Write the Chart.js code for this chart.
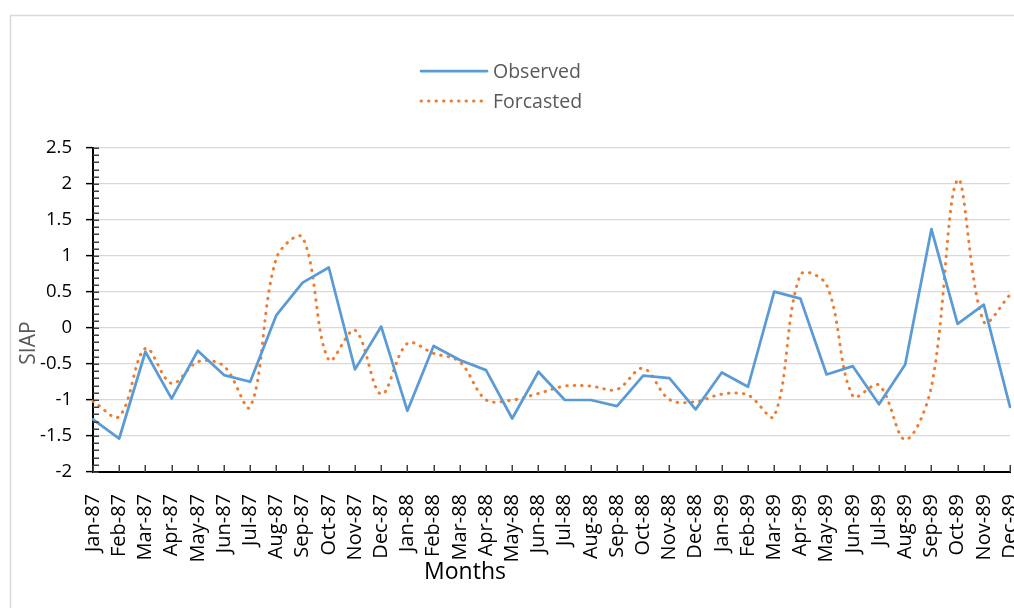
<!DOCTYPE html>
<html>
<head>
<meta charset="utf-8">
<script src="https://cdn.jsdelivr.net/npm/chart.js@4/dist/chart.umd.min.js"></script>
<style>
  html, body { margin: 0; padding: 0; background: #fff; overflow: hidden; }
  #wrap { position: absolute; left: 0; top: 0; width: 1060px; height: 608px; }
</style>
</head>
<body>
<div id="wrap"><canvas id="c" width="1060" height="608"></canvas></div>
<script>
// Monthly SIAP index, Jan 1987 - Dec 1989
const months = [
  'Jan-87','Feb-87','Mar-87','Apr-87','May-87','Jun-87','Jul-87','Aug-87','Sep-87','Oct-87','Nov-87','Dec-87',
  'Jan-88','Feb-88','Mar-88','Apr-88','May-88','Jun-88','Jul-88','Aug-88','Sep-88','Oct-88','Nov-88','Dec-88',
  'Jan-89','Feb-89','Mar-89','Apr-89','May-89','Jun-89','Jul-89','Aug-89','Sep-89','Oct-89','Nov-89','Dec-89'
];

const observed = [
  -1.27, -1.535, -0.33, -0.98, -0.315, -0.654, -0.747, 0.18, 0.63, 0.84, -0.575, 0.02,
  -1.15, -0.25, -0.445, -0.585, -1.257, -0.608, -0.997, -1.0, -1.085, -0.66, -0.696, -1.13,
  -0.617, -0.816, 0.505, 0.408, -0.645, -0.53, -1.06, -0.506, 1.373, 0.056, 0.325, -1.095
];

const forecasted = [
  -1.016, -1.23, -0.283, -0.77, -0.47, -0.53, -1.095, 0.97, 1.257, -0.445, -0.03, -0.92,
  -0.214, -0.353, -0.47, -0.997, -1.0, -0.91, -0.807, -0.807, -0.853, -0.56, -0.993, -1.025,
  -0.918, -0.932, -1.224, 0.737, 0.598, -0.946, -0.793, -1.55, -0.816, 2.06, 0.088, 0.46
];

const yMin = -2, yMax = 2.5, yStep = 0.5, yMinorStep = 0.1;
const seriesNames = ['Observed', 'Forcasted'];
const xTitle = 'Months';
const yTitle = 'SIAP';

const FONT = "'Open Sans', 'DejaVu Sans', sans-serif";

// Frame, inside tick marks, axis titles and the stacked legend
const decorations = {
  id: 'decorations',
  beforeDraw(chart) {
    const ctx = chart.ctx;
    ctx.save();
    ctx.fillStyle = '#fff';
    ctx.fillRect(0, 0, chart.width, chart.height);
    ctx.strokeStyle = '#d9d9d9';
    ctx.lineWidth = 1.5;
    ctx.strokeRect(10.5, 15.5, chart.width + 50, chart.height + 50);
    ctx.restore();
  },
  afterDraw(chart) {
    const ctx = chart.ctx;
    const x = chart.scales.x, y = chart.scales.y;
    const area = chart.chartArea;
    ctx.save();

    // category tick marks pointing up into the plot
    ctx.strokeStyle = '#404040';
    ctx.lineWidth = 1.5;
    ctx.beginPath();
    for (let i = 0; i < months.length; i++) {
      const px = Math.round(x.getPixelForTick(i)) + 0.25;
      ctx.moveTo(px, area.bottom);
      ctx.lineTo(px, area.bottom - 7);
    }
    ctx.stroke();

    // minor value ticks on the inner side of the value axis
    ctx.beginPath();
    const nMinor = Math.round((yMax - yMin) / yMinorStep);
    for (let k = 0; k <= nMinor; k++) {
      const py = Math.round(y.getPixelForValue(yMin + k * yMinorStep)) + 0.25;
      ctx.moveTo(area.left, py);
      ctx.lineTo(area.left + 6, py);
    }
    ctx.stroke();

    // axis titles
    ctx.fillStyle = '#000';
    ctx.font = '23px ' + FONT;
    ctx.textAlign = 'center';
    ctx.textBaseline = 'middle';
    ctx.fillText(xTitle, 465, 572);

    ctx.save();
    ctx.translate(29, 343);
    ctx.rotate(-Math.PI / 2);
    ctx.fillStyle = '#595959';
    ctx.font = '21px ' + FONT;
    ctx.fillText(yTitle, 0, 0);
    ctx.restore();

    // legend, one entry per row
    ctx.font = '19.5px ' + FONT;
    ctx.textAlign = 'left';
    ctx.textBaseline = 'middle';
    chart.data.datasets.forEach((ds, i) => {
      const ly = 71 + i * 30;
      ctx.save();
      ctx.strokeStyle = ds.borderColor;
      ctx.lineWidth = ds.borderWidth;
      ctx.lineCap = ds.borderCapStyle || 'butt';
      ctx.setLineDash(ds.borderDash || []);
      ctx.beginPath();
      ctx.moveTo(421, ly);
      ctx.lineTo(487, ly);
      ctx.stroke();
      ctx.restore();
      ctx.fillStyle = '#595959';
      ctx.fillText(ds.label, 493, ly + 1);
    });
    ctx.restore();
  }
};

new Chart(document.getElementById('c'), {
  type: 'line',
  data: {
    labels: months,
    datasets: [
      {
        label: seriesNames[0],
        data: observed,
        borderColor: '#5b9bd5',
        borderWidth: 2.75,
        borderCapStyle: 'round',
        borderJoinStyle: 'round',
        tension: 0,
        pointRadius: 0,
        fill: false
      },
      {
        label: seriesNames[1],
        data: forecasted,
        borderColor: '#ed7d31',
        borderWidth: 3,
        borderDash: [0.5, 7],
        borderCapStyle: 'round',
        tension: 0.35,
        pointRadius: 0,
        fill: false
      }
    ]
  },
  options: {
    responsive: false,
    animation: false,
    devicePixelRatio: 1,
    layout: { padding: { top: 148, right: 50, bottom: 0, left: 0 } },
    plugins: {
      legend: { display: false },
      tooltip: { enabled: false }
    },
    scales: {
      x: {
        type: 'category',
        offset: false,
        grid: { display: false },
        border: { display: true, color: '#000', width: 2 },
        ticks: {
          autoSkip: false,
          minRotation: 90,
          maxRotation: 90,
          padding: 14,
          color: '#000',
          font: { family: FONT, size: 20 }
        },
        afterFit(scale) { scale.height = 136; }
      },
      y: {
        min: yMin,
        max: yMax,
        ticks: {
          stepSize: yStep,
          padding: 14,
          color: '#000',
          font: { family: FONT, size: 18.5 },
          callback: (v) => String(Math.round(v * 10) / 10)
        },
        grid: {
          color: '#d9d9d9',
          lineWidth: 1.25,
          drawTicks: true,
          tickLength: 7,
          tickColor: '#000',
          tickWidth: 1.5
        },
        border: { display: true, color: '#000', width: 2 },
        afterFit(scale) { scale.width = 93; }
      }
    }
  },
  plugins: [decorations]
});
</script>
</body>
</html>
